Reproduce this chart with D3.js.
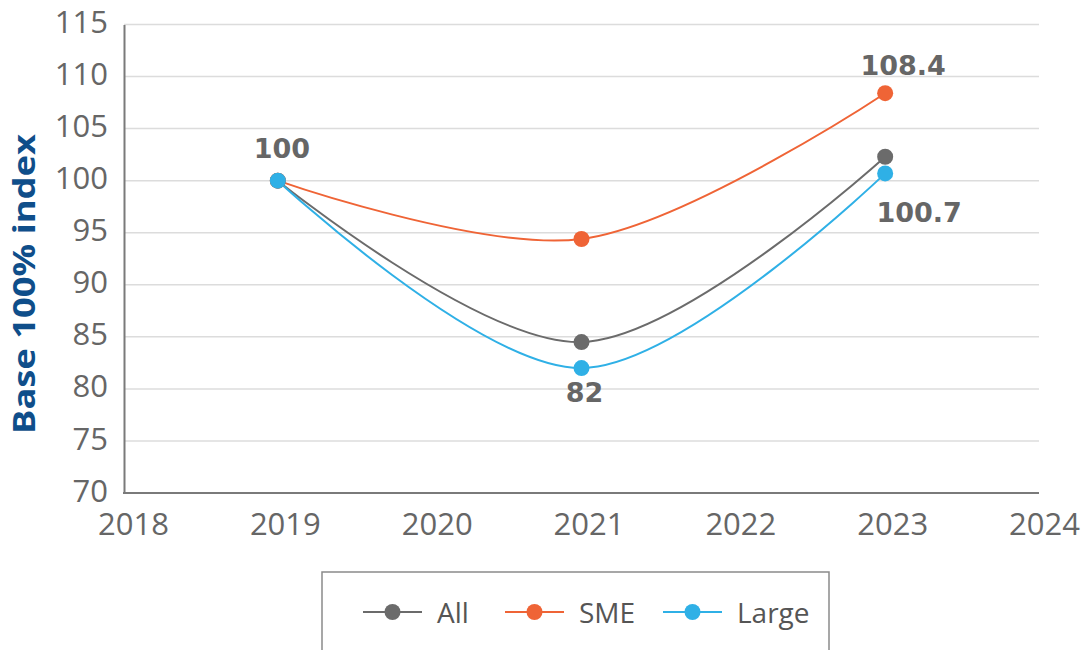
<!DOCTYPE html>
<html>
<head>
<meta charset="utf-8">
<script src="https://cdn.jsdelivr.net/npm/d3@7"></script>
<style>
  body { margin: 0; background: #fff; }
  svg { display: block; font-family: "Open Sans", Lato, sans-serif; }
</style>
</head>
<body>
<script>
// values
var years = [2019, 2021, 2023];
var allValues = [100, 84.5, 102.3];
var smeValues = [100, 94.4, 108.4];
var largeValues = [100, 82, 100.7];
var seriesNames = ["All", "SME", "Large"];
var yTicks = [70, 75, 80, 85, 90, 95, 100, 105, 110, 115];
var xTicks = [2018, 2019, 2020, 2021, 2022, 2023, 2024];

var colors = { All: "#6b6b6b", SME: "#ef6436", Large: "#2fb0e6" };

var width = 1091, height = 650;

var svg = d3.select("body")
    .append("svg")
    .attr("width", width)
    .attr("height", height);

var x = d3.scaleLinear().domain([2018, 2024]).range([126, 1037]);
var y = d3.scaleLinear().domain([70, 115]).range([493, 24.5]);

// gridlines
svg.append("g")
    .selectAll("line")
    .data(yTicks.filter(function(d) { return d > 70; }))
    .enter()
    .append("line")
    .attr("x1", 124)
    .attr("x2", 1039)
    .attr("y1", function(d) { return y(d); })
    .attr("y2", function(d) { return y(d); })
    .attr("stroke", "#dcdcdc")
    .attr("stroke-width", 1.5);

// y axis
var yAxis = svg.append("g")
    .attr("transform", "translate(124,0)")
    .call(d3.axisLeft(y).tickValues(yTicks).tickSize(0).tickPadding(16));
yAxis.select(".domain").attr("stroke", "#7a7a7a").attr("stroke-width", 2);
yAxis.selectAll("text")
    .attr("fill", "#666")
    .attr("dy", "0.26em")
    .style("font-family", "'Open Sans', sans-serif")
    .style("font-size", "31px");

// x axis
var xAxis = svg.append("g")
    .attr("transform", "translate(0,493)")
    .call(d3.axisBottom(x).tickValues(xTicks).tickFormat(d3.format("d")).tickSize(0).tickPadding(20));
xAxis.select(".domain").attr("stroke", "#7a7a7a").attr("stroke-width", 2)
    .attr("d", "M123,0H1039");
xAxis.selectAll("text")
    .attr("fill", "#666")
    .attr("dx", 7)
    .style("font-family", "'Open Sans', sans-serif")
    .style("font-size", "31px");

// y title
svg.append("text")
    .attr("transform", "translate(35,284) rotate(-90)")
    .attr("text-anchor", "middle")
    .attr("fill", "#0f4e8a")
    .attr("textLength", 300)
    .attr("lengthAdjust", "spacingAndGlyphs")
    .style("font-size", "30px")
    .style("font-weight", "bold")
    .text("Base 100% index");

var series = [
    { name: "All", values: allValues },
    { name: "SME", values: smeValues },
    { name: "Large", values: largeValues }
];

var line = d3.line()
    .x(function(d) { return x(d.year); })
    .y(function(d) { return y(d.value); })
    .curve(d3.curveCatmullRom.alpha(0.5));

series.forEach(function(s) {
    var pts = years.map(function(yr, i) { return { year: yr, value: s.values[i] }; });
    svg.append("path")
        .datum(pts)
        .attr("d", line)
        .attr("fill", "none")
        .attr("stroke", colors[s.name])
        .attr("stroke-width", 2);
});

// markers drawn after lines so they sit on top
series.forEach(function(s) {
    svg.append("g")
        .selectAll("circle")
        .data(years.map(function(yr, i) { return { year: yr, value: s.values[i] }; }))
        .enter()
        .append("circle")
        .attr("cx", function(d) { return x(d.year); })
        .attr("cy", function(d) { return y(d.value); })
        .attr("r", 8)
        .attr("fill", colors[s.name]);
});

// data labels
var labels = [
    { year: 2019, value: 100, text: "100", dx: 4, dy: -23 },
    { year: 2021, value: 82, text: "82", dx: 3, dy: 34 },
    { year: 2023, value: 108.4, text: "108.4", dx: 18, dy: -18 },
    { year: 2023, value: 100.7, text: "100.7", dx: 34, dy: 49 }
];
svg.append("g")
    .selectAll("text")
    .data(labels)
    .enter()
    .append("text")
    .attr("x", function(d) { return x(d.year) + d.dx; })
    .attr("y", function(d) { return y(d.value) + d.dy; })
    .attr("text-anchor", "middle")
    .attr("fill", "#666")
    .style("font-family", "'DejaVu Sans', sans-serif")
    .style("font-size", "27px")
    .style("font-weight", "bold")
    .text(function(d) { return d.text; });

// legend
var legend = svg.append("g");
legend.append("rect")
    .attr("x", 322)
    .attr("y", 572)
    .attr("width", 507)
    .attr("height", 100)
    .attr("fill", "#fff")
    .attr("stroke", "#8a8a8a")
    .attr("stroke-width", 1.5);

var legendX = [363, 505, 663];
seriesNames.forEach(function(name, i) {
    var g = legend.append("g").attr("transform", "translate(" + legendX[i] + ",612)");
    g.append("line")
        .attr("x1", 0).attr("x2", 59)
        .attr("stroke", colors[name])
        .attr("stroke-width", 2);
    g.append("circle")
        .attr("cx", 29.5)
        .attr("r", 8)
        .attr("fill", colors[name]);
    g.append("text")
        .attr("x", 74)
        .attr("y", 11)
        .attr("fill", "#555")
        .style("font-size", "28px")
        .text(name);
});
</script>
</body>
</html>
